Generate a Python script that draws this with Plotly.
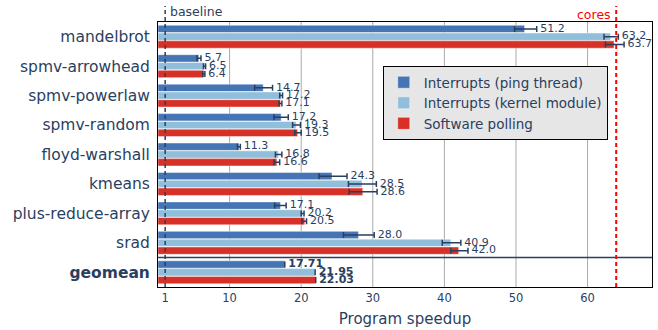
import plotly.graph_objects as go

# Benchmarks, top to bottom
benchmarks = ["mandelbrot", "spmv-arrowhead", "spmv-powerlaw", "spmv-random",
              "floyd-warshall", "kmeans", "plus-reduce-array", "srad", "geomean"]

series_names = ["Interrupts (ping thread)", "Interrupts (kernel module)", "Software polling"]

# Speedups (median) with min/max spread; geomean row carries no spread
ping = [51.2, 5.7, 14.7, 17.2, 11.3, 24.3, 17.1, 28.0, 17.71]
ping_lo = [49.8, 5.45, 13.5, 16.2, 11.1, 22.5, 16.3, 25.9, 17.71]
ping_hi = [52.9, 6.0, 16.0, 18.2, 11.5, 26.4, 17.9, 30.2, 17.71]

kernel = [63.2, 6.5, 17.2, 19.3, 16.8, 28.5, 20.2, 40.9, 21.95]
kernel_lo = [62.3, 6.35, 17.0, 18.8, 16.4, 26.6, 20.0, 39.7, 21.95]
kernel_hi = [64.3, 6.65, 17.4, 19.9, 17.3, 30.5, 20.4, 42.3, 21.95]

polling = [63.7, 6.4, 17.1, 19.5, 16.6, 28.6, 20.5, 42.0, 22.03]
polling_lo = [62.5, 6.25, 16.9, 19.1, 16.2, 26.7, 20.1, 40.9, 22.03]
polling_hi = [65.1, 6.55, 17.3, 20.0, 17.0, 30.6, 20.75, 43.3, 22.03]

x_ticks = [1, 10, 20, 30, 40, 50, 60]
grid_vals = [10, 20, 30, 40, 50, 60]
baseline_x = 1
cores_x = 64

NAVY = "#2a3f5f"
FONT = "DejaVu Sans"
colors = ["#4575b4", "#91bfdb", "#d73027"]

series = [
    (ping, ping_lo, ping_hi),
    (kernel, kernel_lo, kernel_hi),
    (polling, polling_lo, polling_hi),
]
offsets = [-0.265, 0.0, 0.265]
bar_w = 0.25
n = len(benchmarks)
geo = n - 1

fig = go.Figure()

for k, (vals, lo, hi) in enumerate(series):
    ys = [i + offsets[k] for i in range(n)]
    fig.add_trace(go.Bar(
        orientation="h",
        x=vals, y=ys, width=bar_w,
        name=series_names[k],
        marker=dict(color=colors[k], line=dict(color="rgba(255,255,255,0.45)", width=1)),
        error_x=dict(
            type="data", symmetric=False,
            array=[h - v for h, v in zip(hi, vals)],
            arrayminus=[v - l for v, l in zip(vals, lo)],
            color=NAVY, thickness=1.5, width=3,
        ),
        hoverinfo="x+name",
    ))

# value labels, placed just past the end of each spread
for k, (vals, lo, hi) in enumerate(series):
    ys = [i + offsets[k] for i in range(n)]
    texts = []
    for i, v in enumerate(vals):
        if i == geo:
            texts.append(f" <b>{v:.2f}</b>")
        else:
            texts.append(f" {v:.1f}")
    fig.add_trace(go.Scatter(
        x=hi, y=ys, mode="text", text=texts,
        textposition="middle right",
        textfont=dict(family=FONT, size=11, color=NAVY),
        showlegend=False, hoverinfo="skip", cliponaxis=False,
    ))

shapes = []
for g in grid_vals:
    shapes.append(dict(type="line", xref="x", yref="paper", x0=g, x1=g, y0=0, y1=1,
                       line=dict(color="#aaaaaa", width=1), layer="below"))
# separator above the geomean row
shapes.append(dict(type="line", xref="paper", yref="y", x0=0, x1=1, y0=geo - 0.5, y1=geo - 0.5,
                   line=dict(color=NAVY, width=1.5)))
# baseline and core-count markers
shapes.append(dict(type="line", xref="x", yref="paper", x0=baseline_x, x1=baseline_x, y0=0, y1=1.06,
                   line=dict(color=NAVY, width=1.5, dash="4px,3px")))
shapes.append(dict(type="line", xref="x", yref="paper", x0=cores_x, x1=cores_x, y0=0, y1=1.06,
                   line=dict(color="red", width=2, dash="4px,3px")))

annotations = [
    dict(x=baseline_x, y=1.038, xref="x", yref="paper", text="baseline", showarrow=False,
         xanchor="left", yanchor="middle", xshift=3,
         font=dict(family=FONT, size=12.5, color=NAVY)),
    dict(x=cores_x, y=1.03, xref="x", yref="paper", text="cores", showarrow=False,
         xanchor="right", yanchor="middle", xshift=-3,
         font=dict(family=FONT, size=12.5, color="red")),
]

tick_text = [f"<b>{b}</b>" if i == geo else b for i, b in enumerate(benchmarks)]

fig.update_layout(
    width=658, height=330,
    margin=dict(l=158, r=6, t=22, b=43),
    paper_bgcolor="white", plot_bgcolor="white",
    barmode="overlay",
    font=dict(family=FONT, color=NAVY),
    shapes=shapes,
    annotations=annotations,
    legend=dict(
        x=0.455, y=0.834, xanchor="left", yanchor="top",
        bgcolor="#e6e6e6", bordercolor="black", borderwidth=1,
        font=dict(family=FONT, size=13.5, color=NAVY),
        tracegroupgap=0, itemwidth=30,
    ),
    xaxis=dict(
        range=[0, 69], tickvals=x_ticks, ticktext=[str(t) for t in x_ticks],
        showgrid=False, zeroline=False,
        showline=True, linecolor="black", linewidth=1, mirror=True,
        tickfont=dict(family=FONT, size=11.5, color=NAVY),
        title=dict(text="Program speedup", font=dict(family=FONT, size=15, color=NAVY), standoff=9),
    ),
    yaxis=dict(
        range=[n - 0.5, -0.5], tickvals=list(range(n)), ticktext=tick_text,
        showgrid=False, zeroline=False,
        showline=True, linecolor="black", linewidth=1, mirror=True,
        tickfont=dict(family=FONT, size=15.5, color=NAVY),
        ticklabelstandoff=4,
    ),
)

fig.write_html("out.html")
